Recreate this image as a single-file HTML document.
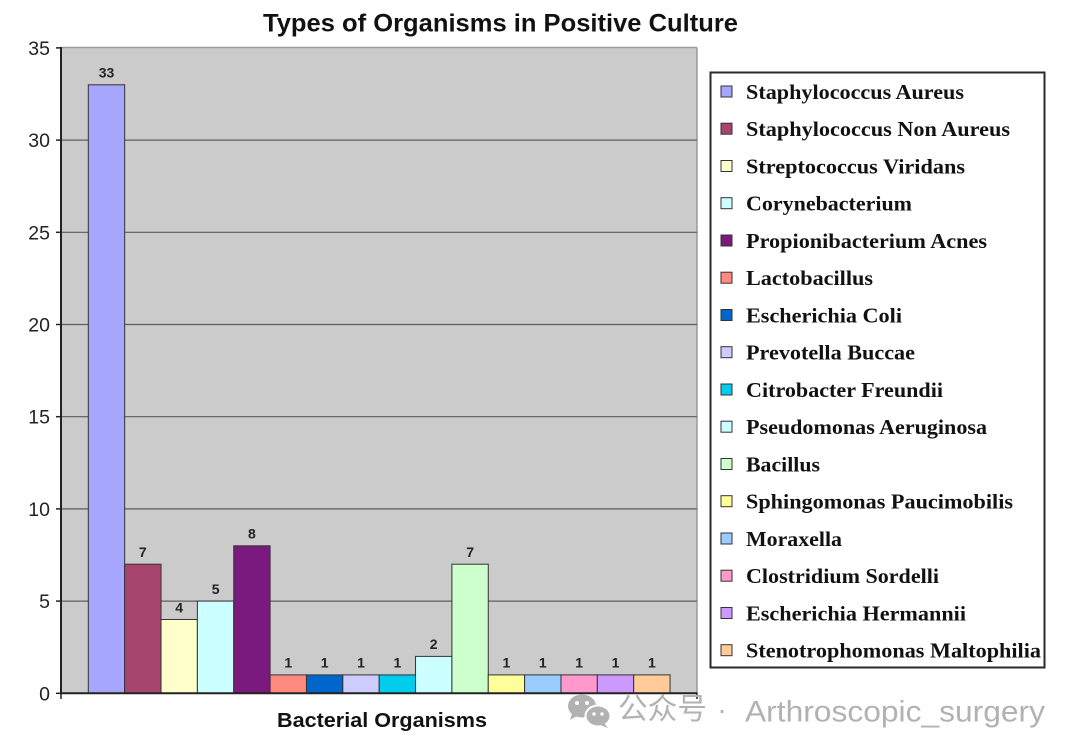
<!DOCTYPE html>
<html>
<head>
<meta charset="utf-8">
<style>
html,body{margin:0;padding:0;background:#fff;}
svg{display:block;}
</style>
</head>
<body>
<svg width="1080" height="754" viewBox="0 0 1080 754" xmlns="http://www.w3.org/2000/svg">
  <rect x="0" y="0" width="1080" height="754" fill="#ffffff"/>
  <!-- Title -->
  <text x="263" y="31.5" font-family="Liberation Sans, Arial, sans-serif" font-weight="bold" font-size="25" fill="#111" textLength="475" lengthAdjust="spacingAndGlyphs">Types of Organisms in Positive Culture</text>

  <!-- Plot area -->
  <rect x="61" y="47.5" width="636" height="645.8" fill="#cbcbcb"/>
  <line x1="61" y1="47.5" x2="697" y2="47.5" stroke="#9a9a9a" stroke-width="1.5"/>
  <line x1="697" y1="47.5" x2="697" y2="693.3" stroke="#9a9a9a" stroke-width="1.5"/>

  <!-- Gridlines -->
  <g stroke="#5c5c5c" stroke-width="1.2">
    <line x1="61" y1="601.1" x2="697" y2="601.1"/>
    <line x1="61" y1="508.9" x2="697" y2="508.9"/>
    <line x1="61" y1="416.7" x2="697" y2="416.7"/>
    <line x1="61" y1="324.5" x2="697" y2="324.5"/>
    <line x1="61" y1="232.3" x2="697" y2="232.3"/>
    <line x1="61" y1="140.1" x2="697" y2="140.1"/>
  </g>

  <!-- Bars -->
  <g stroke="#333" stroke-width="1">
    <rect x="88.3" y="84.8" width="36.36" height="608.5" fill="#a6a6ff"/>
    <rect x="124.66" y="564.2" width="36.36" height="129.1" fill="#a8456f"/>
    <rect x="161.02" y="619.5" width="36.36" height="73.8" fill="#ffffcc"/>
    <rect x="197.38" y="601.1" width="36.36" height="92.2" fill="#ccffff"/>
    <rect x="233.74" y="545.8" width="36.36" height="147.5" fill="#7a1a7e"/>
    <rect x="270.1" y="674.9" width="36.36" height="18.4" fill="#ff8a80"/>
    <rect x="306.46" y="674.9" width="36.36" height="18.4" fill="#0066cc"/>
    <rect x="342.82" y="674.9" width="36.36" height="18.4" fill="#ccccff"/>
    <rect x="379.18" y="674.9" width="36.36" height="18.4" fill="#00ccee"/>
    <rect x="415.54" y="656.4" width="36.36" height="36.9" fill="#ccffff"/>
    <rect x="451.9" y="564.2" width="36.36" height="129.1" fill="#ccffcc"/>
    <rect x="488.26" y="674.9" width="36.36" height="18.4" fill="#ffff99"/>
    <rect x="524.62" y="674.9" width="36.36" height="18.4" fill="#99ccff"/>
    <rect x="560.98" y="674.9" width="36.36" height="18.4" fill="#ff99cc"/>
    <rect x="597.34" y="674.9" width="36.36" height="18.4" fill="#cc99ff"/>
    <rect x="633.7" y="674.9" width="36.36" height="18.4" fill="#ffcc99"/>
  </g>

  <!-- Data labels -->
  <g font-family="Liberation Sans, Arial, sans-serif" font-weight="bold" font-size="14" fill="#222" text-anchor="middle">
    <text x="106.5" y="77.5">33</text>
    <text x="142.8" y="557">7</text>
    <text x="179.2" y="612.3">4</text>
    <text x="215.6" y="593.9">5</text>
    <text x="251.9" y="538.6">8</text>
    <text x="288.3" y="667.7">1</text>
    <text x="324.6" y="667.7">1</text>
    <text x="361" y="667.7">1</text>
    <text x="397.4" y="667.7">1</text>
    <text x="433.7" y="649.2">2</text>
    <text x="470.1" y="557">7</text>
    <text x="506.4" y="667.7">1</text>
    <text x="542.8" y="667.7">1</text>
    <text x="579.2" y="667.7">1</text>
    <text x="615.5" y="667.7">1</text>
    <text x="651.9" y="667.7">1</text>
  </g>

  <!-- Axes -->
  <line x1="61" y1="47" x2="61" y2="694" stroke="#222" stroke-width="2"/>
  <line x1="60" y1="693.3" x2="697.5" y2="693.3" stroke="#222" stroke-width="2"/>
  <g stroke="#222" stroke-width="1.5">
    <line x1="56" y1="693.3" x2="61" y2="693.3"/>
    <line x1="56" y1="601.1" x2="61" y2="601.1"/>
    <line x1="56" y1="508.9" x2="61" y2="508.9"/>
    <line x1="56" y1="416.7" x2="61" y2="416.7"/>
    <line x1="56" y1="324.5" x2="61" y2="324.5"/>
    <line x1="56" y1="232.3" x2="61" y2="232.3"/>
    <line x1="56" y1="140.1" x2="61" y2="140.1"/>
    <line x1="56" y1="47.9" x2="61" y2="47.9"/>
    <line x1="697" y1="693.3" x2="697" y2="699"/>
    <line x1="61" y1="693.3" x2="61" y2="699"/>
  </g>

  <!-- Y labels -->
  <g font-family="Liberation Sans, Arial, sans-serif" font-size="19.5" fill="#222" text-anchor="end">
    <text x="50" y="700.3">0</text>
    <text x="50" y="608.1">5</text>
    <text x="50" y="515.9">10</text>
    <text x="50" y="423.7">15</text>
    <text x="50" y="331.5">20</text>
    <text x="50" y="239.3">25</text>
    <text x="50" y="147.1">30</text>
    <text x="50" y="54.9">35</text>
  </g>

  <!-- X title -->
  <text x="277" y="727" font-family="Liberation Sans, Arial, sans-serif" font-weight="bold" font-size="20" fill="#111" textLength="210" lengthAdjust="spacingAndGlyphs">Bacterial Organisms</text>

  <!-- Legend -->
  <rect x="710.5" y="72.5" width="334" height="595" fill="#fff" stroke="#2a2a2a" stroke-width="2"/>
  <g stroke="#333" stroke-width="1">
    <rect x="721" y="86" width="11" height="11" fill="#a6a6ff"/>
    <rect x="721" y="123.2" width="11" height="11" fill="#a8456f"/>
    <rect x="721" y="160.5" width="11" height="11" fill="#ffffcc"/>
    <rect x="721" y="197.7" width="11" height="11" fill="#ccffff"/>
    <rect x="721" y="235" width="11" height="11" fill="#7a1a7e"/>
    <rect x="721" y="272.2" width="11" height="11" fill="#ff8a80"/>
    <rect x="721" y="309.5" width="11" height="11" fill="#0066cc"/>
    <rect x="721" y="346.7" width="11" height="11" fill="#ccccff"/>
    <rect x="721" y="384" width="11" height="11" fill="#00ccee"/>
    <rect x="721" y="421.2" width="11" height="11" fill="#ccffff"/>
    <rect x="721" y="458.5" width="11" height="11" fill="#ccffcc"/>
    <rect x="721" y="495.7" width="11" height="11" fill="#ffff99"/>
    <rect x="721" y="533" width="11" height="11" fill="#99ccff"/>
    <rect x="721" y="570.2" width="11" height="11" fill="#ff99cc"/>
    <rect x="721" y="607.5" width="11" height="11" fill="#cc99ff"/>
    <rect x="721" y="644.7" width="11" height="11" fill="#ffcc99"/>
  </g>
  <g font-family="Liberation Serif, Times New Roman, serif" font-weight="bold" font-size="21" fill="#111" lengthAdjust="spacingAndGlyphs">
    <text x="746" y="99" textLength="218" lengthAdjust="spacingAndGlyphs">Staphylococcus Aureus</text>
    <text x="746" y="136.2" textLength="264" lengthAdjust="spacingAndGlyphs">Staphylococcus Non Aureus</text>
    <text x="746" y="173.5" textLength="219" lengthAdjust="spacingAndGlyphs">Streptococcus Viridans</text>
    <text x="746" y="210.7" textLength="166" lengthAdjust="spacingAndGlyphs">Corynebacterium</text>
    <text x="746" y="248" textLength="241" lengthAdjust="spacingAndGlyphs">Propionibacterium Acnes</text>
    <text x="746" y="285.2" textLength="127" lengthAdjust="spacingAndGlyphs">Lactobacillus</text>
    <text x="746" y="322.5" textLength="156" lengthAdjust="spacingAndGlyphs">Escherichia Coli</text>
    <text x="746" y="359.7" textLength="169" lengthAdjust="spacingAndGlyphs">Prevotella Buccae</text>
    <text x="746" y="397" textLength="197" lengthAdjust="spacingAndGlyphs">Citrobacter Freundii</text>
    <text x="746" y="434.2" textLength="241" lengthAdjust="spacingAndGlyphs">Pseudomonas Aeruginosa</text>
    <text x="746" y="471.5" textLength="74" lengthAdjust="spacingAndGlyphs">Bacillus</text>
    <text x="746" y="508.7" textLength="267" lengthAdjust="spacingAndGlyphs">Sphingomonas Paucimobilis</text>
    <text x="746" y="546" textLength="96" lengthAdjust="spacingAndGlyphs">Moraxella</text>
    <text x="746" y="583.2" textLength="193" lengthAdjust="spacingAndGlyphs">Clostridium Sordelli</text>
    <text x="746" y="620.5" textLength="220" lengthAdjust="spacingAndGlyphs">Escherichia Hermannii</text>
    <text x="746" y="657.7" textLength="295" lengthAdjust="spacingAndGlyphs">Stenotrophomonas Maltophilia</text>
  </g>

  <!-- Watermark -->
  <g fill="#b2b2b2">
    <ellipse cx="582" cy="706" rx="14" ry="11.5"/>
    <path d="M572 714 L570 720 L577 716 Z"/>
    <ellipse cx="598" cy="716" rx="12.5" ry="10.5" stroke="#fff" stroke-width="2"/>
    <path d="M604 723 L608 728 L600 725 Z"/>
    <circle cx="577" cy="703" r="2" fill="#fff"/>
    <circle cx="587" cy="703" r="2" fill="#fff"/>
    <circle cx="594" cy="714" r="1.7" fill="#fff"/>
    <circle cx="602" cy="714" r="1.7" fill="#fff"/>
  </g>
  <text x="618" y="719" font-family="Noto Sans CJK SC, WenQuanYi Zen Hei, sans-serif" font-size="29.5" fill="#b2b2b2" textLength="89" lengthAdjust="spacingAndGlyphs">公众号</text>
  <text x="722" y="719" font-family="Liberation Sans, Noto Sans CJK SC, sans-serif" font-size="28" fill="#b2b2b2" text-anchor="middle">·</text>
  <text x="745" y="721.5" font-family="Liberation Sans, Noto Sans CJK SC, sans-serif" font-size="30" fill="#b2b2b2" textLength="300" lengthAdjust="spacingAndGlyphs">Arthroscopic_surgery</text>
</svg>
</body>
</html>
